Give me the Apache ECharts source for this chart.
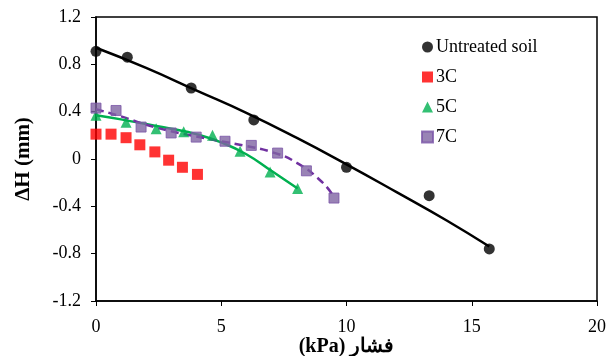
<!DOCTYPE html>
<html>
<head>
<meta charset="utf-8">
<script src="https://cdn.jsdelivr.net/npm/echarts@6/dist/echarts.min.js"></script>
<style>
  html, body { margin: 0; padding: 0; background: #fff; }
  #chart { width: 614px; height: 356px; }
</style>
</head>
<body>
<div id="chart"></div>
<script>
// measured points
const untreatedX = [0, 1.25, 3.8, 6.3, 10, 13.3, 15.7];
const untreatedY = [0.91, 0.86, 0.60, 0.33, -0.07, -0.31, -0.76];
const c3X = [0, 0.6, 1.2, 1.75, 2.35, 2.9, 3.45, 4.05];
const c3Y = [0.21, 0.21, 0.18, 0.12, 0.06, -0.01, -0.07, -0.13];
const c5X = [0, 1.2, 2.4, 3.5, 4.65, 5.75, 6.95, 8.05];
const c5Y = [0.37, 0.31, 0.255, 0.23, 0.20, 0.065, -0.11, -0.25];
const c7X = [0, 0.8, 1.8, 3.0, 4.0, 5.15, 6.2, 7.25, 8.4, 9.5];
const c7Y = [0.43, 0.41, 0.27, 0.22, 0.185, 0.15, 0.115, 0.05, -0.10, -0.33];

// trendlines
const trendUntreatedX = [0, 2, 4, 6, 8, 10, 12, 14, 15.7];
const trendUntreatedY = [0.94, 0.77, 0.58, 0.39, 0.18, -0.045, -0.28, -0.52, -0.74];
const trend5X = [0, 1, 2, 3, 4, 5, 6, 7, 8.05];
const trend5Y = [0.37, 0.335, 0.295, 0.255, 0.21, 0.14, 0.04, -0.10, -0.25];
const trend7X = [0, 1, 2, 3, 4, 5, 6, 7, 8, 9, 9.5];
const trend7Y = [0.42, 0.36, 0.29, 0.235, 0.19, 0.15, 0.11, 0.06, -0.03, -0.19, -0.32];

const xTicks = [0, 5, 10, 15, 20];
const yTicks = [-1.2, -0.8, -0.4, 0, 0.4, 0.8, 1.2];

const pairs = (xs, ys) => xs.map((x, i) => [x, ys[i]]);
const serif = 'Liberation Serif';

const chart = echarts.init(document.getElementById('chart'));

const option = {
    backgroundColor: '#fff',
    animation: false,
    textStyle: { fontFamily: serif },
    grid: {
        left: 96,
        right: 17,
        top: 17,
        bottom: 55,
        outerBoundsMode: 'none', // keep the plot box fixed
        show: true,
        borderColor: '#000',
        borderWidth: 1.5,
    },
    legend: {
        orient: 'vertical',
        left: 416,
        top: 33,
        itemGap: 12,
        itemWidth: 11,
        itemHeight: 11,
        data: ['Untreated soil', '3C', '5C', '7C'],
        textStyle: { fontFamily: serif, fontSize: 18, color: '#000', padding: [0, 0, 0, -2] },
    },
    xAxis: {
        type: 'value',
        min: xTicks[0],
        max: xTicks[xTicks.length - 1],
        interval: 5,
        name: '(kPa) فشار',
        nameLocation: 'middle',
        nameGap: 36,
        nameMoveOverlap: false,
        nameTextStyle: { fontFamily: serif, fontSize: 20, fontWeight: 'bold', color: '#000' },
        axisLine: { onZero: false, lineStyle: { color: '#000', width: 1.5 } },
        axisTick: { show: true, length: 5, lineStyle: { color: '#000' } },
        axisLabel: { fontFamily: serif, fontSize: 18, color: '#000', margin: 17 },
        splitLine: { show: false },
    },
    yAxis: {
        type: 'value',
        min: yTicks[0],
        max: yTicks[yTicks.length - 1],
        interval: 0.4,
        name: 'ΔH (mm)',
        nameLocation: 'middle',
        nameGap: 62,
        nameMoveOverlap: false,
        nameTextStyle: { fontFamily: serif, fontSize: 21, fontWeight: 'bold', color: '#000' },
        axisLine: { show: true, onZero: false, lineStyle: { color: '#000', width: 1.5 } },
        axisTick: { show: true, length: 5, lineStyle: { color: '#000' } },
        axisLabel: {
            fontFamily: serif,
            fontSize: 18,
            color: '#000',
            margin: 15,
            formatter: v => (Math.abs(v) < 1e-9 ? '0' : v.toFixed(1)),
        },
        splitLine: { show: false },
    },
    series: [
        {
            type: 'line',
            data: pairs(trendUntreatedX, trendUntreatedY),
            smooth: true,
            showSymbol: false,
            lineStyle: { color: '#000', width: 2.5 },
            z: 2,
        },
        {
            type: 'line',
            data: pairs(trend5X, trend5Y),
            smooth: true,
            showSymbol: false,
            lineStyle: { color: '#00B050', width: 2.5 },
            z: 2,
        },
        {
            type: 'line',
            data: pairs(trend7X, trend7Y),
            smooth: true,
            showSymbol: false,
            lineStyle: { color: '#7030A0', width: 2.5, type: [8, 5] },
            z: 2,
        },
        {
            name: 'Untreated soil',
            type: 'scatter',
            data: pairs(untreatedX, untreatedY),
            symbol: 'circle',
            symbolSize: 11,
            itemStyle: { color: '#000' },
            z: 3,
        },
        {
            name: '3C',
            type: 'scatter',
            data: pairs(c3X, c3Y),
            symbol: 'rect',
            symbolSize: 11,
            itemStyle: { color: '#FF0000' },
            z: 3,
        },
        {
            name: '5C',
            type: 'scatter',
            data: pairs(c5X, c5Y),
            symbol: 'triangle',
            symbolSize: 11,
            itemStyle: { color: '#00B050' },
            z: 3,
        },
        {
            name: '7C',
            type: 'scatter',
            data: pairs(c7X, c7Y),
            symbol: 'rect',
            symbolSize: 10,
            itemStyle: { color: '#8064A2', borderColor: '#7A55A8', borderWidth: 1 },
            z: 3,
        },
    ],
};

chart.setOption(option);
</script>
</body>
</html>
